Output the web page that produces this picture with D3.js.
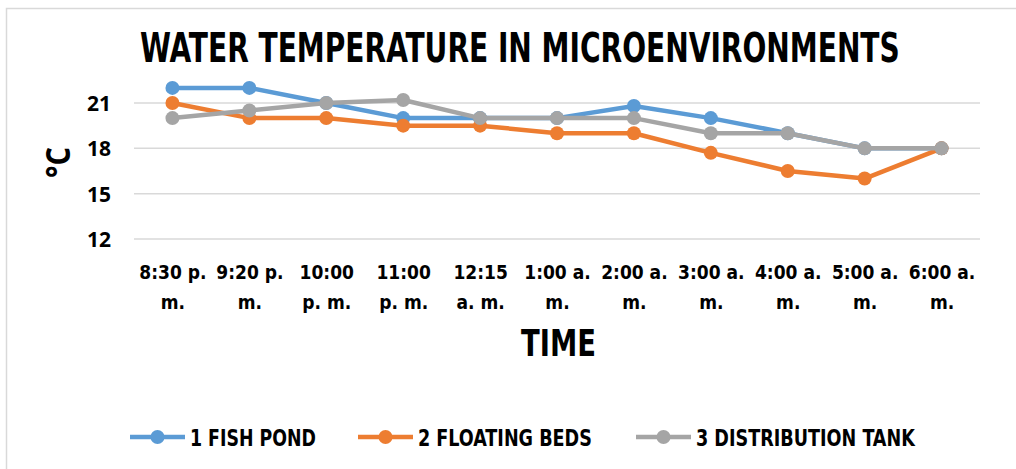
<!DOCTYPE html>
<html>
<head>
<meta charset="utf-8">
<script src="https://cdn.jsdelivr.net/npm/d3@7"></script>
<style>
  body { margin: 0; background: #fff; }
  svg { display: block; }
  .narrow { font-family: "Liberation Sans Narrow", "DejaVu Sans Condensed", "DejaVu Sans", sans-serif; font-weight: bold; font-stretch: condensed; }
</style>
</head>
<body>
<svg id="chart" width="1016" height="469"></svg>
<script>
const times = [
  ["8:30 p.", "m."], ["9:20 p.", "m."], ["10:00", "p. m."], ["11:00", "p. m."],
  ["12:15", "a. m."], ["1:00 a.", "m."], ["2:00 a.", "m."], ["3:00 a.", "m."],
  ["4:00 a.", "m."], ["5:00 a.", "m."], ["6:00 a.", "m."]
];
const fishPond = [22, 22, 21, 20, 20, 20, 20.8, 20, 19, 18, 18];
const floatingBeds = [21, 20, 20, 19.5, 19.5, 19, 19, 17.7, 16.5, 16, 18];
const distributionTank = [20, 20.5, 21, 21.2, 20, 20, 20, 19, 19, 18, 18];
const yTicks = [12, 15, 18, 21];

const series = [
  { name: "1 FISH POND", values: fishPond, color: "#5B9BD5" },
  { name: "2 FLOATING BEDS", values: floatingBeds, color: "#ED7D31" },
  { name: "3 DISTRIBUTION TANK", values: distributionTank, color: "#A5A5A5" }
];

const svg = d3.select("#chart");
const margin = { left: 134, right: 36 };
const width = 1016;

// squeeze a text horizontally so it spans the wanted width (no narrow font installed)
function fitWidth(sel, x, y, w, rotate) {
  const len = sel.node().getComputedTextLength();
  const k = Math.min(1, w / len);
  sel.attr("transform", `translate(${x},${y})${rotate ? " rotate(-90)" : ""} scale(${k},1)`);
}

// chart frame
svg.append("rect")
  .attr("x", 6.5).attr("y", 8.5)
  .attr("width", 1020).attr("height", 470)
  .attr("fill", "none").attr("stroke", "#D9D9D9").attr("stroke-width", 1.5);

const x = d3.scalePoint()
  .domain(d3.range(times.length))
  .range([margin.left, width - margin.right])
  .padding(0.5);

const y = d3.scaleLinear()
  .domain([12, 21])
  .range([239, 103]);

// gridlines
svg.append("g")
  .selectAll("line")
  .data(yTicks)
  .join("line")
  .attr("x1", margin.left).attr("x2", width - margin.right)
  .attr("y1", d => y(d)).attr("y2", d => y(d))
  .attr("stroke", "#D9D9D9").attr("stroke-width", 1.5);

// y axis labels
const yAxis = d3.axisLeft(y).tickValues(yTicks).tickSize(0).tickPadding(0);
svg.append("g")
  .attr("transform", `translate(111,0)`)
  .call(yAxis)
  .call(g => g.select(".domain").remove())
  .call(g => g.selectAll("text")
    .attr("font-family", "'Open Sans', sans-serif")
    .attr("font-weight", "bold")
    .attr("font-size", 21)
    .attr("fill", "#000")
    .attr("dy", "0.35em"));

// x axis labels (two lines)
const xAxis = d3.axisBottom(x).tickSize(0).tickFormat(() => "");
const xg = svg.append("g")
  .attr("transform", `translate(0,${y(12)})`)
  .call(xAxis);
xg.select(".domain").remove();
xg.selectAll(".tick").each(function (i) {
  const t = d3.select(this).append("text")
    .attr("class", "narrow")
    .attr("text-anchor", "middle")
    .attr("font-size", 19)
    .attr("fill", "#000");
  t.append("tspan").attr("x", 0).attr("y", 40).text(times[i][0]);
  t.append("tspan").attr("x", 0).attr("y", 70).text(times[i][1]);
});

// lines and markers
const line = d3.line()
  .x((d, i) => x(i))
  .y(d => y(d));

series.forEach(s => {
  svg.append("path")
    .datum(s.values)
    .attr("d", line)
    .attr("fill", "none")
    .attr("stroke", s.color)
    .attr("stroke-width", 4.5)
    .attr("stroke-linejoin", "round");
  svg.append("g")
    .selectAll("circle")
    .data(s.values)
    .join("circle")
    .attr("cx", (d, i) => x(i))
    .attr("cy", d => y(d))
    .attr("r", 7)
    .attr("fill", s.color);
});

// title
svg.append("text")
  .attr("class", "narrow")
  .attr("font-size", 40)
  .text("WATER TEMPERATURE IN MICROENVIRONMENTS")
  .call(fitWidth, 140, 62, 760);

// axis titles
svg.append("text")
  .attr("font-family", "'Open Sans', sans-serif")
  .attr("font-weight", "bold")
  .attr("font-size", 34)
  .text("°C")
  .call(fitWidth, 70, 178, 31, true);

svg.append("text")
  .attr("class", "narrow")
  .attr("font-size", 38)
  .text("TIME")
  .call(fitWidth, 521, 356, 75);

// legend
const legendX = [130, 358, 636];
const legendW = [126, 174, 219];
const legend = svg.append("g")
  .selectAll("g")
  .data(series)
  .join("g")
  .attr("transform", (d, i) => `translate(${legendX[i]},437)`);
legend.append("line")
  .attr("x1", 0).attr("x2", 55)
  .attr("stroke", d => d.color).attr("stroke-width", 4.5);
legend.append("circle")
  .attr("cx", 27.5).attr("r", 7)
  .attr("fill", d => d.color);
legend.append("text")
  .attr("class", "narrow")
  .attr("font-size", 23)
  .text(d => d.name)
  .each(function (d, i) { fitWidth(d3.select(this), 60, 8.5, legendW[i]); });
</script>
</body>
</html>
